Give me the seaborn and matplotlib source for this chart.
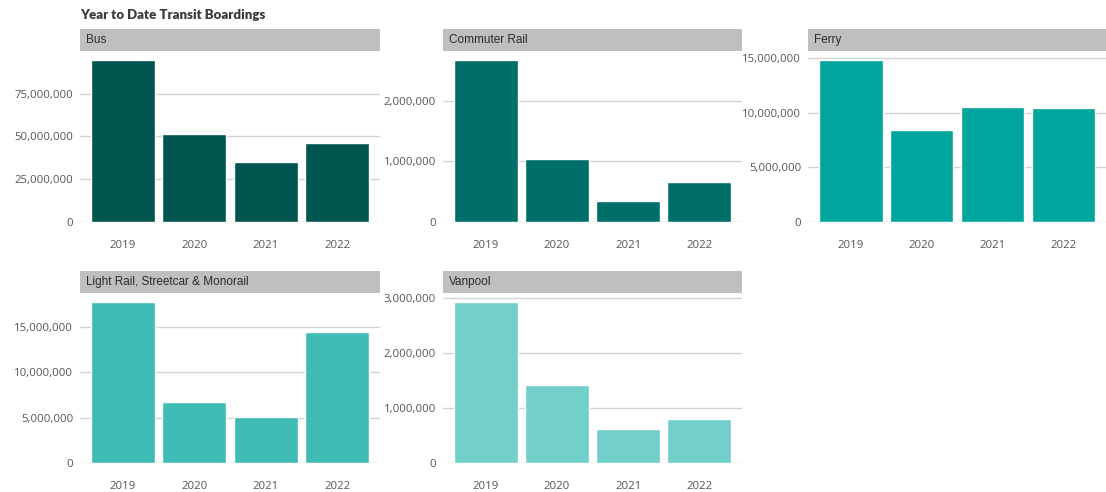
import matplotlib
matplotlib.use("Agg")
import matplotlib.pyplot as plt
import seaborn as sns
import pandas as pd
from matplotlib.patches import Rectangle
from matplotlib.ticker import FuncFormatter, MultipleLocator

sns.set_style("white")
plt.rcParams['font.family'] = ['Open Sans', 'DejaVu Sans']

title = "Year to Date Transit Boardings"
years = ["2019", "2020", "2021", "2022"]
modes = ["Bus", "Commuter Rail", "Ferry", "Light Rail, Streetcar & Monorail", "Vanpool"]
bus = [94_400_000, 51_600_000, 35_200_000, 46_000_000]
commuter_rail = [2_670_000, 1_046_000, 347_000, 661_000]
ferry = [14_780_000, 8_440_000, 10_520_000, 10_430_000]
light_rail = [17_700_000, 6_770_000, 5_120_000, 14_480_000]
vanpool = [2_930_000, 1_416_000, 623_000, 804_000]
tick_steps = [25_000_000, 1_000_000, 5_000_000, 5_000_000, 1_000_000]
colors = ["#00554E", "#006F69", "#00A69D", "#3FBCB5", "#72CFCA"]

series = [bus, commuter_rail, ferry, light_rail, vanpool]

W, H = 1106, 492
fig = plt.figure(figsize=(W / 100, H / 100), dpi=100)

col_left = [80, 443, 808]
col_width = [300, 299, 298]
row_top = [51, 293]
row_bottom = [222, 463]
strip_h = 22

fig.text(80 / W, 1 - 15 / H, title, fontsize=9.5, fontweight="heavy",
         color="#3a3a3a", ha="left", va="center",
         family=["Lato", "DejaVu Sans"])

for i, (mode, vals, step, col) in enumerate(zip(modes, series, tick_steps, colors)):
    r, c = divmod(i, 3)
    l = col_left[c]
    w = col_width[c]
    t = row_top[r]
    b = row_bottom[r]
    ax = fig.add_axes([l / W, 1 - b / H, w / W, (b - t) / H])
    df = pd.DataFrame({"year": years, "value": vals})
    sns.barplot(data=df, x="year", y="value", color=col, saturation=1,
                width=0.9, ax=ax, zorder=3)
    ax.set_xlim(-0.6, 3.6)
    ax.set_ylim(0, max(vals) * 1.058)
    ax.yaxis.set_major_locator(MultipleLocator(step))
    ax.yaxis.set_major_formatter(FuncFormatter(lambda v, p: f"{int(v):,}"))
    ax.grid(axis="y", color="#D3D3D3", linewidth=1, zorder=0)
    ax.set_axisbelow(True)
    for s in ax.spines.values():
        s.set_visible(False)
    ax.set_xlabel("")
    ax.set_ylabel("")
    ax.tick_params(axis="both", length=0, labelsize=8.2, labelcolor="#555555")
    ax.tick_params(axis="y", pad=5)
    ax.tick_params(axis="x", pad=13)
    # strip header
    ax.add_patch(Rectangle((0, 1), 1, strip_h / (b - t), transform=ax.transAxes,
                           facecolor="#BEBFC1", edgecolor="none", clip_on=False, zorder=5))
    ax.text(6 / w, 1 + (strip_h / 2) / (b - t), mode, transform=ax.transAxes,
            ha="left", va="center", fontsize=8.5, color="#2b2b2b",
            family=["Liberation Sans", "DejaVu Sans"], zorder=6)

fig.savefig("out.png", dpi=100)
